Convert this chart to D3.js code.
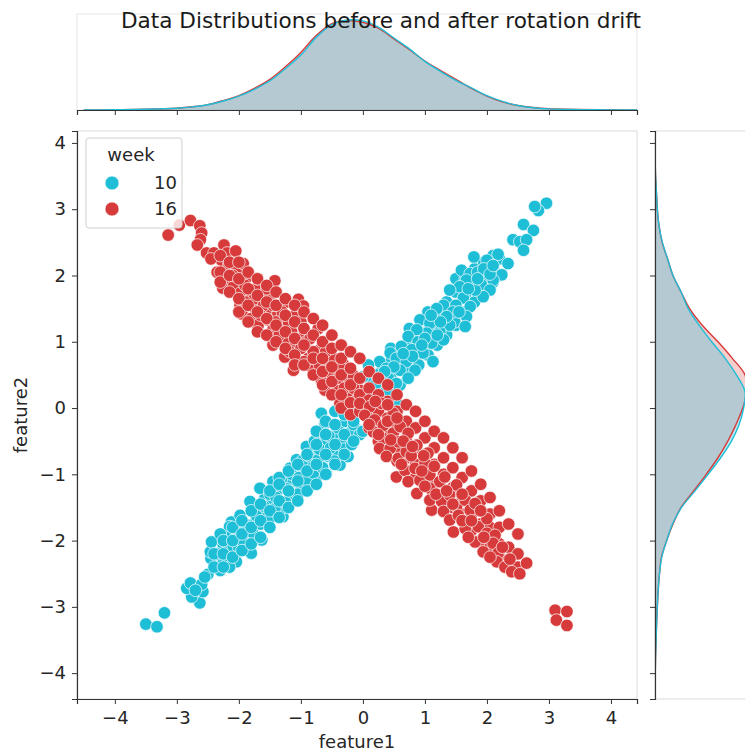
<!DOCTYPE html>
<html lang="en">
<head>
<meta charset="UTF-8">
<title>Data Distributions before and after rotation drift</title>
<script src="https://d3js.org/d3.v7.min.js"></script>
<style>
    body { margin: 0; background: #fff; }
    svg { font-family: "DejaVu Sans", sans-serif; }
    .tick text { font-size: 18px; fill: #262626; }
    .tick line { stroke: #333; }
</style>
</head>
<body>
<div id="container"></div>
<script>

// ---- data ----
const weeks = ['10', '16'];
const colors = ['#1ebed7', '#d73a3a'];
const xTicks = [-4, -3, -2, -1, 0, 1, 2, 3, 4];
const yTicks = [-4, -3, -2, -1, 0, 1, 2, 3, 4];

// week 10 points [feature1, feature2]
const week10 = [
    [-3.50,-3.26],[-3.32,-3.30],[-3.20,-3.09],
    [-2.63,-2.94],[-2.76,-2.85],[-2.84,-2.72],[-2.58,-2.77],[-2.78,-2.64],[-2.60,-2.66],[-2.50,-2.51],
    [-2.30,-2.45],[-2.45,-2.27],[-2.46,-2.17],[-2.44,-2.02],[-2.25,-2.07],[-2.25,-2.32],[-2.09,-2.24],[-2.04,-2.32],[-2.09,-2.09],
    [-2.12,-1.72],[-2.15,-1.79],[-1.98,-1.89],[-1.88,-1.99],[-1.80,-2.19],[-1.63,-1.99],[-1.85,-1.84],[-1.98,-1.62],[-1.74,-1.74],
    [-1.82,-1.41],[-1.69,-1.54],[-1.55,-1.59],[-1.58,-1.36],[-1.66,-1.21],[-1.47,-1.41],[-1.45,-1.11],[-1.37,-1.24],[-1.29,-1.64],
    [-1.31,-1.51],[-1.18,-1.36],[-1.29,-1.09],[-1.18,-0.91],[-1.12,-1.11],[-0.99,-1.21],[-1.07,-0.78],[-0.96,-0.96],[-0.91,-0.58],
    [-0.83,-0.86],[-0.77,-0.63],[-0.69,-0.43],[-0.75,-1.04],[-0.59,-0.99],[-0.56,-0.73],[-0.64,-0.53],[-0.42,-0.68],[-0.48,-0.43],
    [-0.37,-0.86],[-0.34,-0.53],[-0.21,-0.38],[-0.24,-0.73],[-0.67,-0.08],[-0.61,-0.23],
    [-1.95,-1.95],[-1.90,-1.75],[-1.78,-1.88],[-1.72,-1.62],[-1.65,-1.75],[-1.60,-1.48],[-1.52,-1.70],[-1.50,-1.30],[-1.42,-1.52],
    [-1.40,-1.35],[-1.35,-1.05],[-1.25,-1.42],[-1.22,-1.22],[-1.15,-1.00],[-1.05,-1.30],[-1.03,-1.05],[-0.98,-0.80],[-0.90,-1.10],
    [-0.88,-0.72],[-0.80,-0.98],[-0.78,-0.50],[-0.72,-0.78],[-0.70,-0.62],[-0.65,-0.90],[-0.55,-0.42],[-0.52,-0.60],[-0.46,-0.80],
    [-0.40,-0.30],[-0.30,-0.62],[-0.28,-0.20],[-0.18,-0.55],[-0.15,-0.25],[-0.10,-0.05],[-0.05,-0.40],[-2.35,-2.20],[-2.20,-1.95],
    [-2.15,-2.40],[-2.00,-2.10],[-1.92,-2.05],[-2.30,-1.90],[-2.55,-2.55],[-2.70,-2.75],
    [-2.40,-2.40],[-2.40,-2.20],[-2.25,-2.40],[-2.25,-2.20],[-2.25,-2.00],[-2.10,-2.25],[-2.10,-2.00],[-2.10,-1.80],
    [-1.95,-2.15],[-1.95,-1.90],[-1.95,-1.70],[-1.80,-2.05],[-1.80,-1.80],[-1.80,-1.55],[-1.65,-1.95],[-1.65,-1.70],[-1.65,-1.45],
    [-1.50,-1.80],[-1.50,-1.55],[-1.50,-1.25],[-1.35,-1.65],[-1.35,-1.40],[-1.35,-1.15],[-1.20,-1.50],[-1.20,-1.25],[-1.20,-0.95],
    [-1.05,-1.40],[-1.05,-1.10],[-1.05,-0.85],[-0.90,-1.25],[-0.90,-0.95],[-0.90,-0.70],[-0.75,-1.15],[-0.75,-0.85],[-0.75,-0.55],
    [-0.75,-0.35],[-0.60,-1.00],[-0.60,-0.70],[-0.60,-0.40],[-0.60,-0.20],[-0.45,-0.85],[-0.45,-0.55],[-0.45,-0.25],[-0.45,-0.05],
    [-0.30,-0.70],[-0.30,-0.40],[-0.30,-0.10],[-0.30,0.05],[-0.15,-0.50],[-0.15,-0.20],[-0.15,0.05],[0.00,-0.35],[0.00,-0.05],
    [0.00,0.20],[0.15,-0.10],[0.15,0.20],[0.15,0.45],[0.30,0.05],[0.30,0.30],[0.30,0.55],[0.45,0.20],[0.45,0.45],[0.45,0.70],
    [0.45,0.90],[0.60,0.35],[0.60,0.60],[0.60,0.85],[0.75,0.55],[0.75,0.80],[0.75,1.00],[0.75,1.20],[0.90,0.65],[0.90,0.90],
    [0.90,1.15],[1.05,0.80],[1.05,1.05],[1.05,1.30],[1.05,1.45],[1.20,0.95],[1.20,1.20],[1.20,1.45],[1.35,1.10],[1.35,1.35],
    [1.35,1.60],[1.50,1.25],[1.50,1.50],[1.50,1.75],[1.50,1.95],[1.65,1.45],[1.65,1.70],[1.65,1.95],[1.80,1.60],[1.80,1.85],
    [1.80,2.10],[1.95,1.75],[1.95,2.00],[1.95,2.20],[2.10,1.90],[2.10,2.10],[2.10,2.30],[2.20,2.00],[2.20,2.25],
    [2.96,3.09],[2.83,2.98],[2.77,3.04],[2.59,2.77],[2.75,2.68],[2.42,2.54],[2.53,2.51],[2.64,2.54],[2.59,2.38],
    [1.79,2.28],[2.18,2.32],[2.34,2.18],[2.00,2.23],[1.59,2.08],[1.73,2.03],[2.24,2.01],[2.10,1.93],[1.91,1.86],[2.05,1.78],
    [1.94,1.68],[1.81,1.78],[1.67,1.93],[1.56,1.83],[1.40,1.78],[1.30,1.55],[1.62,1.66],[1.73,1.53],[1.67,1.38],[1.48,1.30],
    [1.19,1.50],[1.16,1.30],[1.40,1.25],[1.65,1.23],[0.92,1.33],[1.08,1.28],[1.03,1.13],[1.24,1.15],[1.30,1.03],[0.87,1.18],
    [0.73,1.08],[0.89,1.00],[1.11,0.98],[0.62,0.93],[0.79,0.88],[0.97,0.83],[1.13,0.70],[0.44,0.83],[0.54,0.75],[0.70,0.70],
    [0.84,0.57],[0.27,0.70],[0.38,0.60],[0.60,0.57],[0.73,0.45],[0.09,0.65],[0.22,0.50],[0.41,0.45],[0.54,0.37],[0.33,0.30],
    [0.49,0.17],[0.57,0.05],[0.11,0.27],[0.00,0.47],
    [1.85,2.05],[1.95,2.10],[2.05,2.02],[1.70,1.80],[1.50,1.55],[1.45,1.45],[1.55,1.45],[1.35,1.38],[1.25,1.30],[1.00,1.05],
    [0.95,0.95],[1.20,1.10],[0.80,0.78],[0.65,0.82],[0.50,0.62],[0.35,0.55],[0.30,0.40],[0.20,0.35],[0.15,0.15],[0.40,0.20],
    [1.10,1.40],[1.85,1.95],[2.10,2.15]
];

// week 16 points [feature1, feature2]
const week16 = [
    [-3.14,2.61],[-2.96,2.76],[-2.78,2.83],[-2.63,2.75],[-2.60,2.64],[-2.62,2.54],[-2.67,2.46],[-2.52,2.34],[-2.40,2.34],
    [-2.24,2.46],[-2.19,2.34],[-2.05,2.37],[-2.28,2.23],[-2.16,2.17],[-2.04,2.08],[-1.93,2.18],[-2.21,1.94],[-2.26,1.81],
    [-2.09,1.83],[-1.88,1.96],[-1.42,1.92],[-1.98,1.73],[-1.80,1.78],[-1.69,1.83],[-1.98,1.55],[-1.95,1.42],[-1.82,1.63],
    [-1.63,1.68],[-1.50,1.69],[-1.74,1.50],[-1.55,1.48],[-1.80,1.35],[-1.69,1.25],[-1.53,1.33],[-1.37,1.43],[-1.23,1.60],
    [-1.04,1.64],[-0.96,1.54],[-1.12,1.38],[-1.45,1.18],[-1.29,1.20],[-1.47,1.08],[-1.45,0.95],[-1.26,1.00],[-1.07,1.05],
    [-0.94,1.15],[-0.72,1.20],[-1.26,0.77],[-1.10,0.93],[-0.91,1.00],[-1.07,0.72],[-1.12,0.57],[-0.88,0.75],[-0.69,0.88],
    [-0.80,0.57],[-0.61,0.67],[-0.50,0.77],[-0.67,0.42],[-0.48,0.52],[-0.32,0.67],[-0.61,0.27],[-0.42,0.27],[-0.24,0.40],
    [-0.16,0.50],[-0.37,0.07],[-0.21,0.17],[-0.05,0.27],[0.00,0.07],
    [-1.90,1.85],[-1.75,1.65],[-1.60,1.55],[-1.65,1.40],[-1.45,1.55],[-1.40,1.30],[-1.30,1.45],[-1.35,1.10],[-1.20,1.30],
    [-1.15,1.15],[-1.00,1.30],[-1.18,0.85],[-1.00,0.90],[-0.85,1.05],[-0.95,0.70],[-0.80,0.85],[-0.70,0.65],[-0.60,0.85],
    [-0.55,0.55],[-0.40,0.45],[-0.35,0.60],[-0.30,0.30],[-0.15,0.30],[-0.10,0.12],[-2.10,2.00],[-2.35,2.05],[-2.45,2.25],
    [-1.90,1.60],[-1.55,1.80],[-1.70,1.95],
    [-2.30,2.30],[-2.30,2.05],[-2.30,1.90],[-2.15,2.20],[-2.15,2.00],[-2.15,1.75],[-2.00,2.20],[-2.00,1.95],[-2.00,1.65],
    [-2.00,1.45],[-1.85,2.05],[-1.85,1.80],[-1.85,1.55],[-1.85,1.30],[-1.70,1.95],[-1.70,1.70],[-1.70,1.45],[-1.70,1.15],
    [-1.55,1.85],[-1.55,1.60],[-1.55,1.35],[-1.55,1.10],[-1.40,1.75],[-1.40,1.55],[-1.40,1.25],[-1.40,1.00],[-1.25,1.65],
    [-1.25,1.40],[-1.25,1.15],[-1.25,0.90],[-1.10,1.55],[-1.10,1.30],[-1.10,1.05],[-1.10,0.80],[-1.10,0.65],[-0.95,1.45],
    [-0.95,1.20],[-0.95,0.95],[-0.95,0.65],[-0.80,1.35],[-0.80,1.10],[-0.80,0.75],[-0.80,0.50],[-0.65,1.25],[-0.65,1.00],
    [-0.65,0.75],[-0.65,0.55],[-0.65,0.35],[-0.50,1.10],[-0.50,0.90],[-0.50,0.62],[-0.50,0.40],[-0.50,0.20],[-0.35,0.95],
    [-0.35,0.75],[-0.35,0.50],[-0.35,0.20],[-0.35,0.00],[-0.20,0.85],[-0.20,0.60],[-0.20,0.35],[-0.20,0.08],[-0.20,-0.10],
    [-0.05,0.75],[-0.05,0.45],[-0.05,0.20],[-0.05,-0.05],[0.10,0.55],[0.10,0.30],[0.10,0.12],[0.10,-0.15],[0.10,-0.30],
    [0.25,0.45],[0.25,0.20],[0.25,-0.05],[0.25,-0.30],[0.25,-0.50],[0.40,0.35],[0.40,0.10],[0.40,-0.15],[0.40,-0.35],
    [0.40,-0.55],[0.55,0.20],[0.55,-0.05],[0.55,-0.30],[0.55,-0.60],[0.55,-0.80],[0.70,0.05],[0.70,-0.20],[0.70,-0.45],
    [0.70,-0.75],[0.70,-0.95],[0.85,-0.05],[0.85,-0.30],[0.85,-0.60],[0.85,-0.85],[0.85,-1.05],[1.00,-0.20],[1.00,-0.45],
    [1.00,-0.70],[1.00,-0.95],[1.00,-1.10],[1.15,-0.35],[1.15,-0.60],[1.15,-0.85],[1.15,-1.15],[1.30,-0.45],[1.30,-0.75],
    [1.30,-1.00],[1.30,-1.30],[1.45,-0.60],[1.45,-0.90],[1.45,-1.20],[1.45,-1.50],[1.60,-0.75],[1.60,-1.05],[1.60,-1.40],
    [1.60,-1.60],[1.75,-0.95],[1.75,-1.25],[1.75,-1.60],[1.75,-1.85],[1.90,-1.15],[1.90,-1.40],[1.90,-1.75],[1.90,-2.00],
    [2.05,-1.35],[2.05,-1.60],[2.05,-1.80],[2.05,-2.10],[2.20,-1.55],[2.20,-1.80],[2.20,-2.05],[2.20,-2.25],[2.35,-1.75],
    [2.35,-2.10],[2.35,-2.35],[2.50,-1.90],[2.50,-2.20],[2.50,-2.40],
    [-0.05,0.07],[0.11,0.02],[0.30,0.07],[0.03,-0.11],[0.19,-0.18],[0.33,-0.26],[0.49,-0.08],[0.17,-0.36],[0.33,-0.46],
    [0.49,-0.38],[0.60,-0.28],[0.27,-0.61],[0.44,-0.61],[0.57,-0.51],[0.73,-0.38],[0.38,-0.73],[0.57,-0.76],[0.70,-0.66],
    [0.87,-0.56],[0.54,-1.04],[0.68,-0.94],[0.84,-0.91],[1.00,-0.83],[1.05,-0.68],[0.73,-1.11],[0.92,-1.09],[1.08,-1.01],
    [0.87,-1.29],[1.08,-1.21],[1.24,-1.11],[1.32,-1.04],[1.11,-1.54],[1.08,-1.39],[1.27,-1.41],[1.40,-1.31],[1.51,-1.16],
    [1.30,-1.56],[1.51,-1.49],[1.65,-1.39],[1.40,-1.69],[1.54,-1.62],[1.73,-1.54],[1.81,-1.44],[1.46,-1.87],[1.65,-1.82],
    [1.86,-1.79],[2.00,-1.67],[1.81,-2.02],[2.00,-1.89],[2.13,-1.92],[1.94,-2.17],[2.10,-2.04],[2.18,-2.19],[2.16,-2.32],
    [2.29,-2.40],[2.37,-2.28],[2.40,-2.47],[2.53,-2.50],[2.64,-2.34],[3.10,-3.05],[3.29,-3.07],[3.12,-3.20],[3.29,-3.28],
    [0.10,-0.25],[0.25,-0.40],[0.40,-0.20],[0.45,-0.48],[0.65,-0.50],[0.78,-0.72],[0.62,-0.85],[0.80,-0.58],[0.95,-0.95],
    [0.98,-0.72],[1.15,-0.88],[1.00,-1.18],[1.18,-1.30],[1.35,-1.25],[1.45,-1.45],[1.60,-1.30],[1.60,-1.70],[1.75,-1.70],
    [1.90,-1.55],[1.70,-1.95],[1.95,-1.95],[2.05,-2.25],[2.25,-2.10],[0.20,0.10],[0.40,0.05],[0.55,-0.15]
];

// marginal density of feature1 (top), relative heights
const f1Grid   = [-4.5,-4.0,-3.5,-3.0,-2.75,-2.5,-2.25,-2.0,-1.75,-1.5,-1.25,-1.0,-0.75,-0.5,-0.25,0,0.25,0.5,0.75,1.0,1.25,1.5,1.75,2.0,2.25,2.5,2.75,3.0,3.5,4.0,4.5];
const f1Dens10 = [0,0.003,0.008,0.02,0.035,0.058,0.10,0.155,0.23,0.325,0.46,0.61,0.81,0.95,1.0,0.99,0.92,0.80,0.68,0.54,0.43,0.33,0.245,0.16,0.095,0.05,0.025,0.012,0.004,0.001,0];
const f1Dens16 = [0,0.003,0.008,0.02,0.036,0.06,0.105,0.16,0.24,0.34,0.48,0.64,0.83,0.96,0.995,0.975,0.91,0.79,0.67,0.545,0.44,0.34,0.24,0.155,0.09,0.05,0.028,0.015,0.006,0.002,0];

// marginal density of feature2 (right), relative widths
const f2Grid   = [-4.25,-4.0,-3.75,-3.5,-3.25,-3.0,-2.75,-2.5,-2.25,-2.0,-1.75,-1.5,-1.25,-1.0,-0.75,-0.5,-0.25,0,0.25,0.5,0.75,1.0,1.25,1.5,1.75,2.0,2.25,2.5,2.75,3.0,3.25,3.5,3.75,4.0];
const f2Dens10 = [0,0.003,0.006,0.012,0.018,0.026,0.035,0.05,0.075,0.13,0.195,0.295,0.445,0.59,0.73,0.85,0.935,0.985,1.0,0.905,0.78,0.63,0.49,0.37,0.29,0.20,0.14,0.082,0.045,0.026,0.016,0.006,0.002,0];
const f2Dens16 = [0,0.003,0.006,0.012,0.018,0.026,0.036,0.05,0.072,0.13,0.20,0.29,0.43,0.57,0.70,0.81,0.90,0.975,1.02,1.0,0.86,0.70,0.525,0.385,0.29,0.20,0.14,0.08,0.045,0.026,0.016,0.006,0.002,0];

// ---- layout ----
const W = 745, H = 752;
const main = {left: 77, right: 637, top: 131, bottom: 699};
const topM = {top: 14, bottom: 110};
const rightM = {left: 655, right: 751};

const svg = d3.select('#container').append('svg')
    .attr('width', W).attr('height', H);

const x = d3.scaleLinear().domain([-4.61, 4.42]).range([main.left, main.right]);
const y = d3.scaleLinear().domain([-4.39, 4.18]).range([main.bottom, main.top]);
const dTop = d3.scaleLinear().domain([0, 1.067]).range([topM.bottom, topM.top]);
const dRight = d3.scaleLinear().domain([0, 1.067]).range([rightM.left, rightM.right]);

//light frames
svg.append('rect').attr('x', main.left).attr('y', main.top)
    .attr('width', main.right - main.left).attr('height', main.bottom - main.top)
    .attr('fill', 'none').attr('stroke', '#dcdcdc');
svg.append('rect').attr('x', main.left).attr('y', topM.top)
    .attr('width', main.right - main.left).attr('height', topM.bottom - topM.top)
    .attr('fill', 'none').attr('stroke', '#e6e6e6');
svg.append('rect').attr('x', rightM.left).attr('y', main.top)
    .attr('width', rightM.right - rightM.left).attr('height', main.bottom - main.top)
    .attr('fill', 'none').attr('stroke', '#dcdcdc');

// fill opacity per week (cyan sits on top)
const fillOp = [0.3, 0.25];

// top marginal kde
const areaTop = d3.area()
    .x(d => x(d[0])).y0(dTop(0)).y1(d => dTop(d[1]))
    .curve(d3.curveCatmullRom);
const lineTop = d3.line()
    .x(d => x(d[0])).y(d => dTop(d[1]))
    .curve(d3.curveCatmullRom);

svg.append('clipPath').attr('id', 'clipTop').append('rect')
    .attr('x', main.left).attr('y', topM.top).attr('width', main.right - main.left).attr('height', topM.bottom - topM.top);
const gTop = svg.append('g').attr('clip-path', 'url(#clipTop)');

[[f1Dens16, 1], [f1Dens10, 0]].forEach(function(s){
    const pts = f1Grid.map((g, i) => [g, s[0][i]]);
    gTop.append('path').datum(pts).attr('d', areaTop)
        .attr('fill', colors[s[1]]).attr('fill-opacity', fillOp[s[1]]);
});
[[f1Dens16, 1], [f1Dens10, 0]].forEach(function(s){
    const pts = f1Grid.map((g, i) => [g, s[0][i]]);
    gTop.append('path').datum(pts).attr('d', lineTop)
        .attr('fill', 'none').attr('stroke', colors[s[1]]).attr('stroke-width', 1.4);
});

// right marginal kde
const areaRight = d3.area()
    .y(d => y(d[0])).x0(dRight(0)).x1(d => dRight(d[1]))
    .curve(d3.curveCatmullRom);
const lineRight = d3.line()
    .y(d => y(d[0])).x(d => dRight(d[1]))
    .curve(d3.curveCatmullRom);

svg.append('clipPath').attr('id', 'clipRight').append('rect')
    .attr('x', rightM.left).attr('y', main.top).attr('width', rightM.right - rightM.left).attr('height', main.bottom - main.top);
const gRight = svg.append('g').attr('clip-path', 'url(#clipRight)');

[[f2Dens16, 1], [f2Dens10, 0]].forEach(function(s){
    const pts = f2Grid.map((g, i) => [g, s[0][i]]);
    gRight.append('path').datum(pts).attr('d', areaRight)
        .attr('fill', colors[s[1]]).attr('fill-opacity', fillOp[s[1]]);
});
[[f2Dens16, 1], [f2Dens10, 0]].forEach(function(s){
    const pts = f2Grid.map((g, i) => [g, s[0][i]]);
    gRight.append('path').datum(pts).attr('d', lineRight)
        .attr('fill', 'none').attr('stroke', colors[s[1]]).attr('stroke-width', 1.4);
});

// scatter
[[week10, colors[0]], [week16, colors[1]]].forEach(function(s){
    svg.append('g').selectAll('circle')
        .data(s[0]).enter()
        .append('circle')
        .attr('cx', d => x(d[0]))
        .attr('cy', d => y(d[1]))
        .attr('r', 6.3)
        .attr('fill', s[1])
        .attr('stroke', '#fff')
        .attr('stroke-width', 0.7);
});

// axes
const xAxis = svg.append('g')
    .attr('transform', `translate(0,${main.bottom})`)
    .call(d3.axisBottom(x).tickValues(xTicks).tickSize(5).tickPadding(7).tickFormat(d3.format('d')));
const yAxis = svg.append('g')
    .attr('transform', `translate(${main.left},0)`)
    .call(d3.axisLeft(y).tickValues(yTicks).tickSize(5).tickPadding(6).tickFormat(d3.format('d')));
[xAxis, yAxis].forEach(a => {
    a.select('.domain').attr('stroke', '#333').attr('stroke-width', 1.2);
    a.selectAll('text').attr('font-family', '"DejaVu Sans", sans-serif');
});

// marginal ticks (no labels)
const xAxisTop = svg.append('g')
    .attr('transform', `translate(0,${topM.bottom})`)
    .call(d3.axisBottom(x).tickValues(xTicks).tickSize(5).tickFormat(''));
xAxisTop.select('.domain').attr('stroke', '#333').attr('stroke-width', 1.2);
const yAxisRight = svg.append('g')
    .attr('transform', `translate(${rightM.left},0)`)
    .call(d3.axisLeft(y).tickValues(yTicks).tickSize(5).tickFormat(''));
yAxisRight.select('.domain').attr('stroke', '#333').attr('stroke-width', 1.2);

// axis labels
svg.append('text')
    .attr('x', (main.left + main.right) / 2).attr('y', 748)
    .attr('text-anchor', 'middle').attr('font-size', 18).attr('fill', '#262626')
    .text('feature1');
svg.append('text')
    .attr('transform', `translate(27,${(main.top + main.bottom) / 2}) rotate(-90)`)
    .attr('text-anchor', 'middle').attr('font-size', 18).attr('fill', '#262626')
    .text('feature2');

// title
svg.append('text')
    .attr('x', 381).attr('y', 28)
    .attr('text-anchor', 'middle').attr('font-size', 21.6).attr('fill', '#1a1a1a')
    .text('Data Distributions before and after rotation drift');

// legend
const legend = svg.append('g');
legend.append('rect')
    .attr('x', 86).attr('y', 138).attr('width', 96).attr('height', 90).attr('rx', 3)
    .attr('fill', '#fff').attr('fill-opacity', 0.8).attr('stroke', '#d0d0d0');
legend.append('text')
    .attr('x', 131).attr('y', 161).attr('text-anchor', 'middle')
    .attr('font-size', 18).attr('fill', '#262626').text('week');
weeks.forEach(function(w, i){
    legend.append('circle')
        .attr('cx', 112).attr('cy', 183 + i * 26).attr('r', 7)
        .attr('fill', colors[i]).attr('stroke', '#fff').attr('stroke-width', 0.7);
    legend.append('text')
        .attr('x', 177).attr('y', 189 + i * 26).attr('text-anchor', 'end')
        .attr('font-size', 18).attr('fill', '#262626').text(w);
});

</script>
</body>
</html>
